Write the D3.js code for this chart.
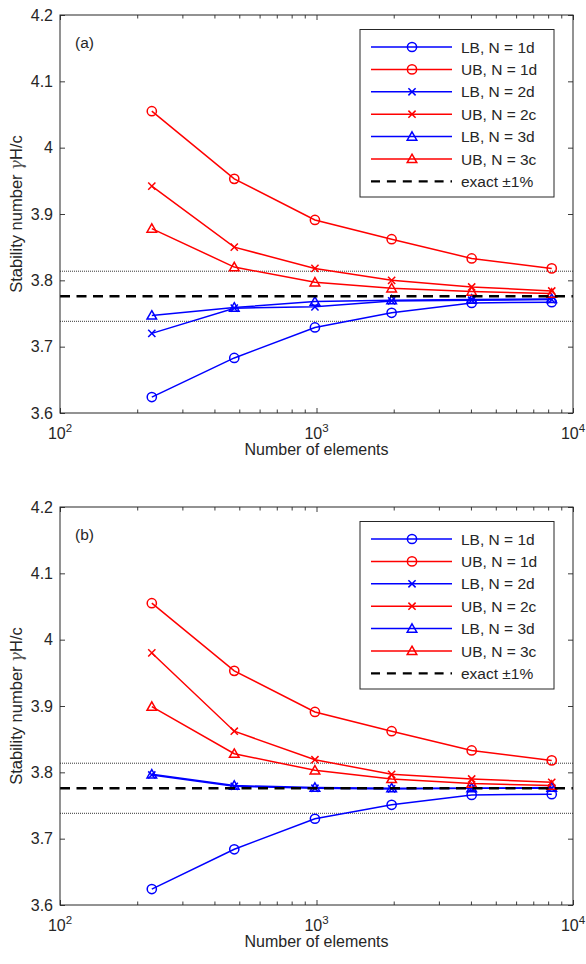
<!DOCTYPE html>
<html><head><meta charset="utf-8">
<script src="https://cdn.jsdelivr.net/npm/d3@7"></script>
<style>
body{margin:0;background:#fff}
svg{display:block}
text{font-family:"Liberation Sans",Arial,Helvetica,sans-serif;fill:#262626}
</style>
</head><body><svg id="c" width="586" height="964"></svg>
<script>
// ---- data ----
const elements = [228, 478, 986, 1963, 4027, 8262];
const panelLabels = ["(a)", "(b)"];
const seriesNames = ["LB, N = 1d", "UB, N = 1d", "LB, N = 2d", "UB, N = 2c", "LB, N = 3d", "UB, N = 3c"];
const seriesColors = ["#0000ff", "#ff0000", "#0000ff", "#ff0000", "#0000ff", "#ff0000"];
const seriesMarkers = ["circle", "circle", "x", "x", "triangle", "triangle"];

const a_LB1d = [3.624, 3.683, 3.729, 3.751, 3.766, 3.767];
const a_UB1d = [4.055, 3.953, 3.891, 3.862, 3.833, 3.818];
const a_LB2d = [3.720, 3.758, 3.760, 3.769, 3.770, 3.771];
const a_UB2c = [3.942, 3.850, 3.818, 3.800, 3.790, 3.784];
const a_LB3d = [3.747, 3.759, 3.768, 3.770, 3.771, 3.772];
const a_UB3c = [3.878, 3.820, 3.797, 3.788, 3.783, 3.780];

const b_LB1d = [3.624, 3.684, 3.730, 3.751, 3.766, 3.767];
const b_UB1d = [4.055, 3.953, 3.891, 3.862, 3.833, 3.818];
const b_LB2d = [3.796, 3.779, 3.776, 3.775, 3.776, 3.776];
const b_UB2c = [3.980, 3.862, 3.819, 3.797, 3.790, 3.785];
const b_LB3d = [3.797, 3.780, 3.777, 3.776, 3.776, 3.777];
const b_UB3c = [3.899, 3.828, 3.803, 3.790, 3.783, 3.780];

const panelSeries = [
  [a_LB1d, a_UB1d, a_LB2d, a_UB2c, a_LB3d, a_UB3c],
  [b_LB1d, b_UB1d, b_LB2d, b_UB2c, b_LB3d, b_UB3c]
];

const exactValue = 3.776;
const tolerance = 0.01;
const exactLabel = "exact \u00B11%";
const yDomain = [3.6, 4.2];
const yTicks = [3.6, 3.7, 3.8, 3.9, 4.0, 4.1, 4.2];
const yTickLabels = ["3.6", "3.7", "3.8", "3.9", "4", "4.1", "4.2"];
const xDomain = [100, 10000];
const xTicks = [100, 1000, 10000];
const xTickExponents = ["2", "3", "4"];
const xMinorTicks = [200, 300, 400, 500, 600, 700, 800, 900, 2000, 3000, 4000, 5000, 6000, 7000, 8000, 9000];
const xLabel = "Number of elements";
const yLabelParts = ["Stability number ", "\u03B3", "H/c"];

// ---- layout ----
const svg = d3.select("#c");
const L = 60, R = 573;
const panelTops = [15, 507];
const panelH = 398;
const axisColor = "#262626";

panelSeries.forEach((series, p) => {
  const top = panelTops[p];
  const g = svg.append("g").attr("transform", `translate(${L},${top})`);
  const W = R - L;
  const x = d3.scaleLog().domain(xDomain).range([0, W]);
  const y = d3.scaleLinear().domain(yDomain).range([panelH, 0]);

  // tolerance lines
  [exactValue * (1 + tolerance), exactValue * (1 - tolerance)].forEach(v => {
    g.append("line").attr("x1", 0).attr("x2", W).attr("y1", y(v)).attr("y2", y(v))
      .attr("stroke", "#000").attr("stroke-width", 0.8).attr("stroke-dasharray", "1,1");
  });

  // series lines and markers
  const line = d3.line().x((d, i) => x(elements[i])).y(d => y(d));
  series.forEach((vals, s) => {
    const col = seriesColors[s];
    g.append("path").attr("d", line(vals)).attr("fill", "none")
      .attr("stroke", col).attr("stroke-width", 1.5);
    vals.forEach((v, i) => drawMarker(g, seriesMarkers[s], x(elements[i]), y(v), col));
  });

  // exact line
  g.append("line").attr("x1", 0).attr("x2", W).attr("y1", y(exactValue)).attr("y2", y(exactValue))
    .attr("stroke", "#000").attr("stroke-width", 2.4).attr("stroke-dasharray", "10,6.5");

  // axes
  const tickFmtY = (d, i) => yTickLabels[i];
  const yl = g.append("g").call(d3.axisLeft(y).tickValues(yTicks).tickSize(-5).tickPadding(7).tickFormat(tickFmtY));
  const yr = g.append("g").attr("transform", `translate(${W},0)`).call(d3.axisRight(y).tickValues(yTicks).tickSize(-5).tickFormat(""));
  const xb = g.append("g").attr("transform", `translate(0,${panelH})`).call(d3.axisBottom(x).tickValues(xTicks).tickSize(-5).tickFormat(""));
  const xt = g.append("g").call(d3.axisTop(x).tickValues(xTicks).tickSize(-5).tickFormat(""));
  const xbm = g.append("g").attr("transform", `translate(0,${panelH})`).call(d3.axisBottom(x).tickValues(xMinorTicks).tickSize(-3.5).tickFormat(""));
  const xtm = g.append("g").call(d3.axisTop(x).tickValues(xMinorTicks).tickSize(-3.5).tickFormat(""));
  [yl, yr, xb, xt, xbm, xtm].forEach(a => {
    a.select(".domain").remove();
    a.selectAll("line").attr("stroke", axisColor).attr("stroke-width", 0.9);
  });
  yl.selectAll("text").attr("font-size", 16).attr("fill", axisColor)
    .style("font-family", '"Liberation Sans",Arial,sans-serif');

  g.append("rect").attr("x", 0).attr("y", 0).attr("width", W).attr("height", panelH)
    .attr("fill", "none").attr("stroke", axisColor).attr("stroke-width", 1);

  // x tick labels 10^n
  xTicks.forEach((t, i) => {
    const tx = g.append("text").attr("x", x(t)).attr("y", panelH + 26).attr("text-anchor", "middle")
      .attr("font-size", 16);
    tx.append("tspan").text("10");
    tx.append("tspan").attr("dy", -7).attr("font-size", 11.5).text(xTickExponents[i]);
  });

  // x label
  g.append("text").attr("x", W / 2).attr("y", panelH + 42).attr("text-anchor", "middle")
    .attr("font-size", 16).text(xLabel);

  // y label
  const yt = g.append("text").attr("transform", `translate(${-38},${panelH / 2}) rotate(-90)`)
    .attr("text-anchor", "middle").attr("font-size", 16.5);
  yt.append("tspan").text(yLabelParts[0]);
  yt.append("tspan").attr("font-family", '"DejaVu Serif",serif').attr("font-style", "italic").attr("fill", "#555").text(yLabelParts[1]);
  yt.append("tspan").text(yLabelParts[2]);

  // panel label
  g.append("text").attr("x", 15).attr("y", 33).attr("font-size", 15.5).text(panelLabels[p]);

  // legend
  const lg = g.append("g").attr("transform", `translate(${360 - L},${14.5})`);
  const rowH = 22.4;
  lg.append("rect").attr("x", 0).attr("y", 0).attr("width", 194).attr("height", 167.5)
    .attr("fill", "#fff").attr("stroke", axisColor).attr("stroke-width", 1);
  seriesNames.forEach((name, s) => {
    const cy = 17.5 + s * rowH;
    lg.append("line").attr("x1", 11).attr("x2", 92).attr("y1", cy).attr("y2", cy)
      .attr("stroke", seriesColors[s]).attr("stroke-width", 1.5);
    drawMarker(lg, seriesMarkers[s], 52, cy, seriesColors[s]);
    lg.append("text").attr("x", 101).attr("y", cy + 5.5).attr("font-size", 15.5).text(name);
  });
  const cyE = 17.5 + 6 * rowH;
  lg.append("line").attr("x1", 11).attr("x2", 92).attr("y1", cyE).attr("y2", cyE)
    .attr("stroke", "#000").attr("stroke-width", 2.4).attr("stroke-dasharray", "9,6.9");
  lg.append("text").attr("x", 101).attr("y", cyE + 5.5).attr("font-size", 15.5).text(exactLabel);
});

function drawMarker(g, type, cx, cy, col) {
  if (type === "circle") {
    g.append("circle").attr("cx", cx).attr("cy", cy).attr("r", 4.6)
      .attr("fill", "none").attr("stroke", col).attr("stroke-width", 1.5);
  } else if (type === "x") {
    const s = 3.6;
    g.append("path").attr("d", `M${cx - s},${cy - s}L${cx + s},${cy + s}M${cx - s},${cy + s}L${cx + s},${cy - s}`)
      .attr("stroke", col).attr("stroke-width", 1.5).attr("fill", "none");
  } else {
    const h = 4.8;
    g.append("path").attr("d", `M${cx},${cy - h}L${cx + h},${cy + h * 0.75}L${cx - h},${cy + h * 0.75}Z`)
      .attr("stroke", col).attr("stroke-width", 1.5).attr("fill", "none");
  }
}
</script>
</body></html>
